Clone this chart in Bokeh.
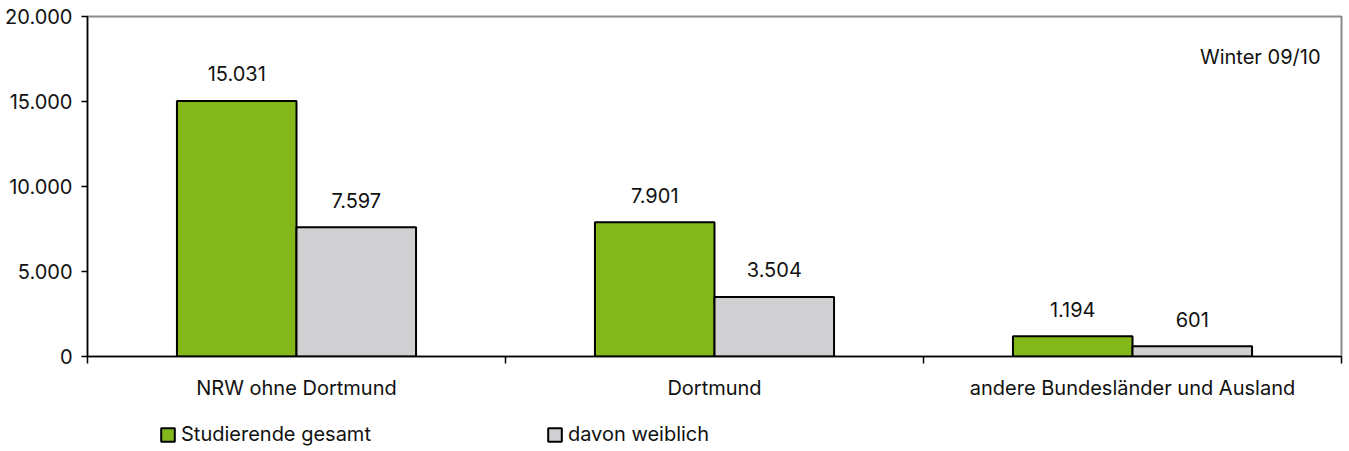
from bokeh.plotting import figure
from bokeh.layouts import column
from bokeh.models import (ColumnDataSource, Range1d, LinearAxis,
                          FixedTicker, Legend, LegendItem, Label)
from bokeh.transform import dodge
from bokeh.core.properties import value
from bokeh.embed import file_html
from bokeh.resources import INLINE

# ---- data ----
categories = ["NRW ohne Dortmund", "Dortmund", "andere Bundesländer und Ausland"]
gesamt = [15031, 7901, 1194]
weiblich = [7597, 3504, 601]
series_names = ["Studierende gesamt", "davon weiblich"]
y_ticks = [0, 5000, 10000, 15000, 20000]
y_tick_labels = ["0", "5.000", "10.000", "15.000", "20.000"]
season = "Winter 09/10"

FONT = "Inter"
FS = "20px"
TXT = "#111111"
GREEN = "#84b81a"
GREY = "#d0d0d2"
WIDTH = 1343


def de_fmt(v):
    return f"{v:,}".replace(",", ".")


n = len(categories)
centers = [i + 0.5 for i in range(n)]      # category slot centres
bounds = list(range(n + 1))                 # category slot boundaries

src = ColumnDataSource(dict(
    pos=centers,
    gesamt=gesamt,
    weiblich=weiblich,
    gesamt_lbl=[de_fmt(v) for v in gesamt],
    weiblich_lbl=[de_fmt(v) for v in weiblich],
))

p = figure(width=WIDTH, height=410, x_range=Range1d(0, n),
           y_range=Range1d(0, 20000), x_axis_location=None,
           output_backend="svg", toolbar_location=None,
           min_border_left=87, min_border_right=2, min_border_top=16,
           min_border_bottom=54)

p.grid.visible = False
p.outline_line_color = "#8a8a8a"
p.outline_line_width = 2
p.background_fill_color = "white"
p.border_fill_color = "white"

# y axis
ya = p.yaxis[0]
ya.ticker = FixedTicker(ticks=y_ticks)
ya.major_label_overrides = {t: l for t, l in zip(y_ticks, y_tick_labels)}
ya.minor_tick_line_color = None
ya.major_tick_in = 0
ya.major_tick_out = 6
ya.major_tick_line_color = "black"
ya.major_tick_line_width = 1.5
ya.axis_line_color = "black"
ya.axis_line_width = 1.5
ya.major_label_standoff = 9
ya.major_label_text_font = FONT
ya.major_label_text_font_size = FS
ya.major_label_text_color = TXT

# x axis: boundary ticks
tick_axis = LinearAxis(ticker=FixedTicker(ticks=bounds),
                       major_label_overrides={b: "" for b in bounds},
                       major_label_text_font_size="0px", major_label_standoff=0,
                       major_tick_in=0, major_tick_out=7,
                       major_tick_line_color="black", major_tick_line_width=1.5,
                       minor_tick_line_color=None,
                       axis_line_color="black", axis_line_width=1.5)
p.add_layout(tick_axis, "below")

# x axis: category labels
cat_axis = LinearAxis(ticker=FixedTicker(ticks=centers),
                      major_label_overrides={c: name for c, name in zip(centers, categories)},
                      axis_line_color=None, major_tick_line_color=None,
                      minor_tick_line_color=None,
                      major_label_standoff=6,
                      major_label_text_font=FONT,
                      major_label_text_font_size=FS,
                      major_label_text_color=TXT)
p.add_layout(cat_axis, "below")

# bars
W = 0.286
OFF = 0.143
r1 = p.vbar(x=dodge("pos", -OFF), top="gesamt", width=W,
            source=src, fill_color=GREEN, line_color="black", line_width=2)
r2 = p.vbar(x=dodge("pos", OFF), top="weiblich", width=W,
            source=src, fill_color=GREY, line_color="black", line_width=2)

# value labels
for off, col in ((-OFF, "gesamt"), (OFF, "weiblich")):
    p.text(x=dodge("pos", off), y=col, text=col + "_lbl",
           source=src, text_align="center", text_baseline="alphabetic",
           y_offset=-27, text_font=value(FONT), text_font_size=FS,
           text_color=TXT)

# season label
p.add_layout(Label(x=n, y=y_ticks[-1],
                   x_offset=-21, y_offset=-40, text=season,
                   text_align="right", text_baseline="alphabetic",
                   text_font=FONT, text_font_size=FS, text_color=TXT))

# legend strip below the chart (hidden proxy renderers carry the bar styles)
lg = figure(width=WIDTH, height=41, x_range=Range1d(0, n), y_range=Range1d(0, 20000),
            output_backend="svg", toolbar_location=None,
            x_axis_location=None, y_axis_location=None,
            min_border_left=0, min_border_right=0, min_border_top=0,
            min_border_bottom=0)
lg.grid.visible = False
lg.outline_line_color = None
lg.background_fill_color = "white"
lg.border_fill_color = "white"
k1 = lg.vbar(x=dodge("pos", -OFF), top="gesamt", width=W, source=src,
             fill_color=GREEN, line_color="black", line_width=2, visible=False)
k2 = lg.vbar(x=dodge("pos", OFF), top="weiblich", width=W, source=src,
             fill_color=GREY, line_color="black", line_width=2, visible=False)
legend = Legend(items=[LegendItem(label=series_names[0], renderers=[k1]),
                       LegendItem(label=series_names[1], renderers=[k2])],
                orientation="horizontal", location=(72, 5),
                border_line_color=None, background_fill_alpha=0,
                padding=0, margin=0, spacing=175, click_policy="none",
                glyph_width=17, glyph_height=17, label_standoff=5,
                label_text_font=FONT, label_text_font_size=FS,
                label_text_color=TXT)
lg.add_layout(legend, "center")

open("out.html", "w").write(file_html(column(p, lg, spacing=0), INLINE))
